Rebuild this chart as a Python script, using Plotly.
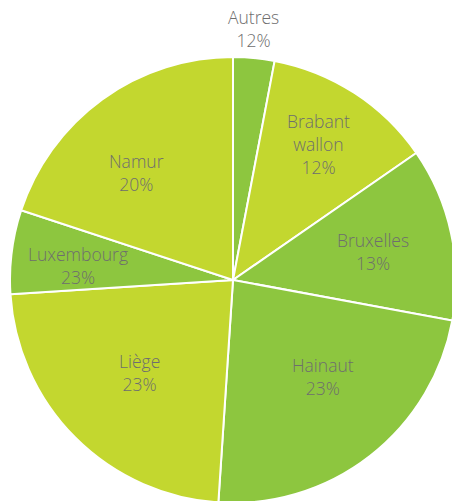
import math
import plotly.graph_objects as go

categories = ["Autres", "Brabant wallon", "Bruxelles", "Hainaut", "Liège", "Luxembourg", "Namur"]
slice_values = [3, 12.4, 12.6, 23.2, 23, 6.1, 20]
label_names = ["Autres", "Brabant<br>wallon", "Bruxelles", "Hainaut", "Liège", "Luxembourg", "Namur"]
label_pcts = ["12%", "12%", "13%", "23%", "23%", "23%", "20%"]

GREEN = "#8dc63f"
LIME = "#c3d72f"
slice_colors = [GREEN, LIME, GREEN, GREEN, LIME, GREEN, LIME]
TEXT_COLOR = "#6e6e6e"
FONT = dict(family="Open Sans", size=17.5, color=TEXT_COLOR, weight=300)

# label placement (style): radial fraction of radius and small angular nudge from slice bisector
label_radius = [1.13, 0.72, 0.64, 0.59, 0.59, 0.70, 0.645]
label_nudge = [-0.8, -0.8, 0.7, -5.2, 0.0, -1.8, -6.0]

# figure is a bit larger than the window; the pie runs past the right/bottom edges like the original
W, H = 470, 520
cx, cy, r = 233, 280, 223

fig = go.Figure(go.Pie(
    labels=categories,
    values=slice_values,
    text=[f"{n}<br>{p}" for n, p in zip(label_names, label_pcts)],
    textinfo="none",
    sort=False,
    direction="clockwise",
    rotation=0,
    marker=dict(colors=slice_colors, line=dict(color="white", width=2)),
    showlegend=False,
    hoverinfo="label+text",
    automargin=False,
    domain=dict(x=[(cx - r) / W, (cx + r) / W], y=[(H - cy - r) / H, (H - cy + r) / H]),
))

total = sum(slice_values)
cum = 0.0
annotations = []
for i, v in enumerate(slice_values):
    mid = (cum + v / 2) / total * 360.0 + label_nudge[i]
    cum += v
    a = math.radians(mid)
    px = cx + label_radius[i] * r * math.sin(a)
    py = cy - label_radius[i] * r * math.cos(a)
    annotations.append(dict(
        x=px / W, y=1 - py / H, xref="paper", yref="paper",
        text=f"{label_names[i]}<br>{label_pcts[i]}",
        showarrow=False, xanchor="center", yanchor="middle",
        font=FONT, align="center",
    ))

fig.update_layout(
    width=W, height=H,
    margin=dict(l=0, r=0, t=0, b=0),
    paper_bgcolor="white",
    plot_bgcolor="white",
    annotations=annotations,
)

fig.write_html(
    "out.html",
    config={"displayModeBar": False},
    post_script="document.body.style.margin='0';document.body.style.overflow='hidden';",
)
